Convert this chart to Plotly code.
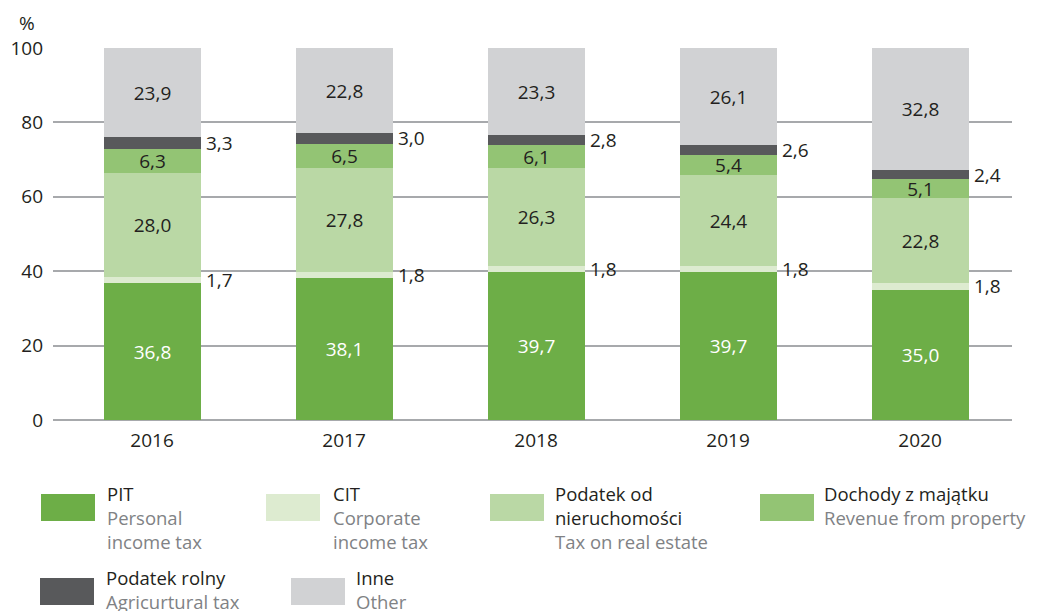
import plotly.graph_objects as go

years = ["2016", "2017", "2018", "2019", "2020"]
pit = [36.8, 38.1, 39.7, 39.7, 35.0]
cit = [1.7, 1.8, 1.8, 1.8, 1.8]
nieruch = [28.0, 27.8, 26.3, 24.4, 22.8]
majatek = [6.3, 6.5, 6.1, 5.4, 5.1]
rolny = [3.3, 3.0, 2.8, 2.6, 2.4]
inne = [23.9, 22.8, 23.3, 26.1, 32.8]

y_ticks = [0, 20, 40, 60, 80, 100]

series = [
    ("PIT", "Personal<br>income tax", pit, "#6DAE47", "white", True),
    ("CIT", "Corporate<br>income tax", cit, "#DDEBD0", "#231F20", False),
    ("Podatek od<br>nieruchomości", "Tax on real estate", nieruch, "#BAD8A5", "#231F20", True),
    ("Dochody z majątku", "Revenue from property", majatek, "#93C474", "#231F20", True),
    ("Podatek rolny", "Agricurtural tax", rolny, "#58595B", "#231F20", False),
    ("Inne", "Other", inne, "#D1D2D4", "#231F20", True),
]

FONT = "Open Sans"
FS = 19
LFS = 18.5
DARK = "#231F20"
GREY = "#808285"

# page offset (body margin) compensation
OFF = 8
FW, FH = 1042 - OFF, 611 - OFF
L, T, R, B = 53 - OFF, 48 - OFF, 30, FH - (420 - OFF)
PW = FW - L - R
PH = FH - T - B

def px(xw):
    return (xw - OFF - L) / PW

def py(yw):
    return (FH - B - (yw - OFF)) / PH

xs = list(range(len(years)))
BW = 0.505

fig = go.Figure()
for pl, en, vals, col, tcol, inside in series:
    fig.add_trace(go.Bar(
        x=xs, y=vals, width=BW, marker=dict(color=col, line=dict(width=0)),
        text=[f"{v:.1f}".replace(".", ",") for v in vals] if inside else None,
        textposition="inside" if inside else "none",
        insidetextanchor="middle", textangle=0,
        textfont=dict(color=tcol, size=FS, family=FONT),
        showlegend=False, hoverinfo="skip",
    ))

annotations = []
for i in xs:
    c_cit = pit[i] + cit[i] / 2
    base_rol = pit[i] + cit[i] + nieruch[i] + majatek[i]
    c_rol = base_rol + rolny[i] / 2
    for val, yc in ((cit[i], c_cit), (rolny[i], c_rol)):
        annotations.append(dict(
            x=i + BW / 2, y=yc, xref="x", yref="y", xanchor="left", yanchor="middle",
            xshift=3, text=f"{val:.1f}".replace(".", ","), showarrow=False,
            font=dict(color=DARK, size=FS, family=FONT)))

annotations.append(dict(x=px(27), y=py(23), xref="paper", yref="paper", text="%",
                        showarrow=False, xanchor="center", yanchor="middle",
                        font=dict(color=DARK, size=FS, family=FONT)))

legend_items = [
    (0, 41, 494, 105),
    (1, 266, 494, 331),
    (2, 490, 494, 553),
    (3, 760, 494, 822),
    (4, 40, 578, 104),
    (5, 291, 578, 354),
]
shapes = []
for idx, sx, sy, tx in legend_items:
    pl, en, vals, col, tcol, inside = series[idx]
    shapes.append(dict(type="rect", xref="paper", yref="paper",
                       x0=px(sx), x1=px(sx + 54), y0=py(sy + 27), y1=py(sy),
                       fillcolor=col, line=dict(width=0)))
    txt = f"<span style='color:{DARK}'>{pl}</span><br><span style='color:{GREY}'>{en}</span>"
    annotations.append(dict(x=px(tx), y=py(sy - 15), xref="paper", yref="paper",
                            xanchor="left", yanchor="top", align="left", text=txt,
                            showarrow=False, font=dict(size=LFS, family=FONT, color=DARK)))

fig.update_layout(
    barmode="stack",
    width=FW, height=FH,
    margin=dict(l=L, r=R, t=T, b=B, autoexpand=False),
    paper_bgcolor="white", plot_bgcolor="white",
    font=dict(family=FONT, size=FS, color=DARK),
    uniformtext=dict(minsize=FS, mode="show"),
    xaxis=dict(range=[-0.516, 4.479], tickvals=xs, ticktext=years, showgrid=False,
               zeroline=False, showline=False, ticks="", ticklabelstandoff=7,
               tickfont=dict(size=FS, color=DARK)),
    yaxis=dict(range=[0, 100], tickvals=y_ticks, showgrid=True, gridcolor="#A7A9AC",
               gridwidth=1.5, zeroline=True, zerolinecolor="#A7A9AC", zerolinewidth=1.5,
               showline=False, ticks="", ticklabelstandoff=9,
               tickfont=dict(size=FS, color=DARK)),
    annotations=annotations,
    shapes=shapes,
    bargap=0,
)

fig.write_html("out.html")
